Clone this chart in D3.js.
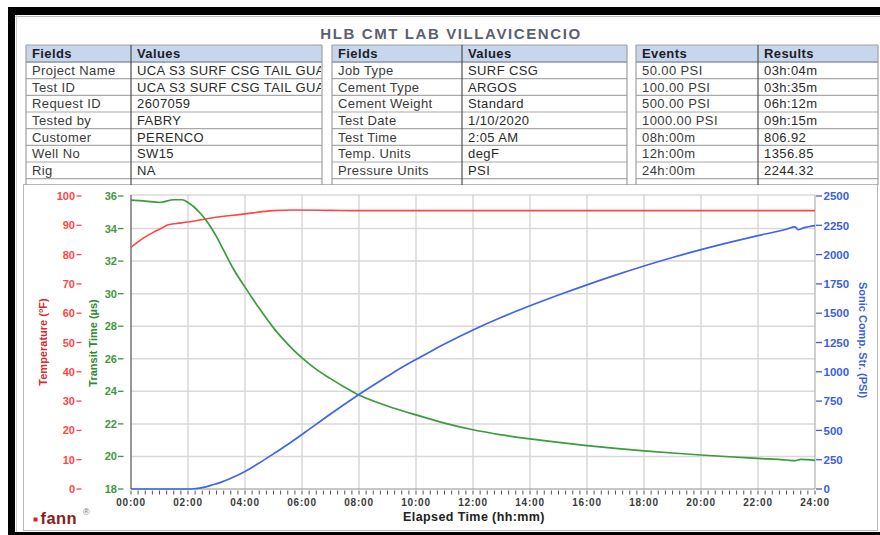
<!DOCTYPE html>
<html><head><meta charset="utf-8">
<script src="https://cdn.jsdelivr.net/npm/d3@7"></script>
<style>body{margin:0;background:#fff;} svg{display:block;font-family:"Liberation Sans",Arial,sans-serif;}</style>
</head><body><svg id="c" width="880" height="535"></svg>
<script>
// ---------- DATA ----------
const chartTitle = "HLB CMT LAB VILLAVICENCIO";
const t1Head = ["Fields", "Values"];
const t1Fields = ["Project Name","Test ID","Request ID","Tested by","Customer","Well No","Rig"];
const t1Values = ["UCA S3 SURF CSG TAIL GUA","UCA S3 SURF CSG TAIL GUA","2607059","FABRY","PERENCO","SW15","NA"];
const t2Head = ["Fields", "Values"];
const t2Fields = ["Job Type","Cement Type","Cement Weight","Test Date","Test Time","Temp. Units","Pressure Units"];
const t2Values = ["SURF CSG","ARGOS","Standard","1/10/2020","2:05 AM","degF","PSI"];
const t3Head = ["Events", "Results"];
const t3Events = ["50.00 PSI","100.00 PSI","500.00 PSI","1000.00 PSI","08h:00m","12h:00m","24h:00m"];
const t3Results = ["03h:04m","03h:35m","06h:12m","09h:15m","806.92","1356.85","2244.32"];

const xTickHours = [0,2,4,6,8,10,12,14,16,18,20,22,24];
const xTickLabels = ["00:00","02:00","04:00","06:00","08:00","10:00","12:00","14:00","16:00","18:00","20:00","22:00","24:00"];
const tempTicks = [0,10,20,30,40,50,60,70,80,90,100];
const transitTicks = [18,20,22,24,26,28,30,32,34,36];
const strengthTicks = [0,250,500,750,1000,1250,1500,1750,2000,2250,2500];

// Temperature (degF)
const tempHours = [0,0.2,0.43,0.78,1.05,1.31,1.6,2,2.77,3.94,4.99,5.7,7,8,10,12,14,16,18,20,22,24];
const tempValues = [82.5,84.0,85.6,87.6,88.9,90.2,90.6,91.1,92.4,93.8,95.0,95.2,95.1,95.0,95.0,95.0,95.0,95.0,95.0,95.0,95.0,95.0];
// Transit time (us)
const transitHours = [0,0.5,1,1.5,1.8,2,2.2,2.4,2.66,3,3.24,3.6,4,4.5,5,5.5,6,6.5,7,7.5,8,9,10,11,12,13,14,15,16,17,18,19,20,21,22,23,23.3,23.5,24];
const transitValues = [35.75,35.69,35.6,35.77,35.77,35.6,35.34,35.0,34.45,33.5,32.7,31.5,30.4,29.1,27.9,26.9,26.05,25.35,24.78,24.25,23.77,23.1,22.55,22.05,21.64,21.33,21.08,20.86,20.66,20.49,20.34,20.21,20.09,19.98,19.88,19.78,19.74,19.82,19.76];
// Sonic compressive strength (PSI)
const strengthHours = [0,1,2,2.2,2.5,2.9,3.07,3.58,4,4.5,5,5.5,6,6.2,7,8,9,9.25,10,10.5,11,12,13,14,15,16,17,18,19,20,21,22,23,23.3,23.4,23.6,24];
const strengthValues = [0,0,0,2,12,38,50,100,150,222,300,380,465,500,640,807,962,1000,1105,1172,1237,1357,1465,1563,1655,1742,1825,1903,1975,2042,2104,2162,2216,2236,2212,2228,2247];

// ---------- DRAW ----------
const svg = d3.select("#c");

// outer frame
svg.append("rect").attr("x",8).attr("y",7).attr("width",872).attr("height",8).attr("fill","#000");
svg.append("rect").attr("x",8).attr("y",7).attr("width",7).attr("height",528).attr("fill","#000");
svg.append("rect").attr("x",8).attr("y",532).attr("width",872).attr("height",3).attr("fill","#000");
svg.append("line").attr("x1",15).attr("x2",880).attr("y1",16.5).attr("y2",16.5).attr("stroke","#bbb");
svg.append("line").attr("x1",16.5).attr("x2",16.5).attr("y1",15).attr("y2",532).attr("stroke","#ccc");

// title
svg.append("text").attr("x",451).attr("y",38.5).attr("text-anchor","middle")
  .attr("font-size",15).attr("font-weight","bold").attr("letter-spacing",1.6)
  .attr("fill","#5b5f70").text(chartTitle);

// chart area frame
svg.append("rect").attr("x",23.5).attr("y",184.5).attr("width",854).attr("height",346)
  .attr("fill","none").attr("stroke","#b8b8b8");

// tables
const rowH = 16.67, headY = 45, headH = 17;
function drawTable(x0, xs, x1, head, c1, c2, id){
  const g = svg.append("g");
  const bodyTop = headY + headH;
  const nRows = c1.length;
  g.append("rect").attr("x",x0).attr("y",headY).attr("width",x1-x0).attr("height",headH).attr("fill","#c8d6eb");
  g.append("rect").attr("x",x0).attr("y",bodyTop).attr("width",x1-x0).attr("height",184-bodyTop).attr("fill","#fff");
  for(let i=0;i<=nRows;i++){
    const y = bodyTop + i*rowH;
    g.append("line").attr("x1",x0).attr("x2",x1).attr("y1",y).attr("y2",y)
      .attr("stroke", i===0 ? "#8a96a8" : "#a9a9a9").attr("stroke-width", i===0?1.5:1.2);
  }
  g.append("line").attr("x1",x0).attr("x2",x1).attr("y1",headY).attr("y2",headY).attr("stroke","#a0a0a0");
  [[x0,"#a0a0a0"],[xs,"#505050"],[x1,"#a0a0a0"]].forEach(([x,c])=>{
    g.append("line").attr("x1",x).attr("x2",x).attr("y1",headY).attr("y2",185).attr("stroke",c).attr("stroke-width",1.2);
  });
  svg.append("clipPath").attr("id",id).append("rect").attr("x",xs+1).attr("y",headY).attr("width",x1-xs-2).attr("height",140);
  g.append("text").attr("x",x0+6).attr("y",headY+13).attr("font-size",13).attr("font-weight","bold")
    .attr("letter-spacing",0.4).attr("fill","#1c1c28").text(head[0]);
  g.append("text").attr("x",xs+6).attr("y",headY+13).attr("font-size",13).attr("font-weight","bold")
    .attr("letter-spacing",0.4).attr("fill","#1c1c28").text(head[1]);
  c1.forEach((t,i)=>{
    const y = bodyTop + i*rowH + 13;
    g.append("text").attr("x",x0+6).attr("y",y).attr("font-size",13).attr("letter-spacing",0.4)
      .attr("fill","#3a3a3a").text(t);
    g.append("text").attr("x",xs+6).attr("y",y).attr("font-size",13).attr("letter-spacing",0.4)
      .attr("fill","#2a2a2a").attr("clip-path",`url(#${id})`).text(c2[i]);
  });
}
drawTable(26, 131, 322, t1Head, t1Fields, t1Values, "clip1");
drawTable(332, 462, 627, t2Head, t2Fields, t2Values, "clip2");
drawTable(636, 758, 878, t3Head, t3Events, t3Results, "clip3");

// scales
const L = 131, R = 815, T = 196, B = 489;
const x = d3.scaleLinear().domain([0,24]).range([L,R]);
const yTemp = d3.scaleLinear().domain([0,100]).range([B,T]);
const yTransit = d3.scaleLinear().domain([18,36]).range([B,T]);
const yStr = d3.scaleLinear().domain([0,2500]).range([B,T]);

// plot background + grid
svg.append("rect").attr("x",L).attr("y",T-1).attr("width",R-L).attr("height",B-T+1).attr("fill","#fff");
const grid = svg.append("g");
xTickHours.slice(1,-1).forEach(h=>{
  grid.append("line").attr("x1",x(h)).attr("x2",x(h)).attr("y1",T-1).attr("y2",B)
    .attr("stroke","#d9d9d9").attr("stroke-width",1.5);
});
transitTicks.slice(1,-1).forEach(v=>{
  grid.append("line").attr("x1",L).attr("x2",R).attr("y1",yTransit(v)).attr("y2",yTransit(v))
    .attr("stroke","#d9d9d9").attr("stroke-width",1.5);
});
svg.append("line").attr("x1",L).attr("x2",R).attr("y1",T-1).attr("y2",T-1).attr("stroke","#c8c8c8").attr("stroke-width",1.2);
svg.append("line").attr("x1",R).attr("x2",R).attr("y1",T-1).attr("y2",B).attr("stroke","#b0b0b0").attr("stroke-width",1.2);
svg.append("line").attr("x1",L).attr("x2",L).attr("y1",T-1).attr("y2",B).attr("stroke","#606060").attr("stroke-width",1.3);
svg.append("line").attr("x1",L).attr("x2",R).attr("y1",B).attr("y2",B).attr("stroke","#909090").attr("stroke-width",1.2);

// x axis minor ticks every 15 min
const minorHours = d3.range(0, 24.001, 0.25);
svg.append("g").selectAll("line").data(minorHours).join("line")
  .attr("x1",d=>x(d)).attr("x2",d=>x(d)).attr("y1",B+1.5).attr("y2",B+5.5)
  .attr("stroke","#555").attr("stroke-width",1);
svg.append("g").selectAll("text").data(xTickHours).join("text")
  .attr("x",d=>x(d)).attr("y",506).attr("text-anchor","middle")
  .attr("font-size",10).attr("font-weight","bold").attr("letter-spacing",0.8)
  .attr("fill","#3a3a3a").text((d,i)=>xTickLabels[i]);
svg.append("text").attr("x",474).attr("y",521).attr("text-anchor","middle")
  .attr("font-size",12.5).attr("font-weight","bold").attr("letter-spacing",0.4)
  .attr("fill","#222").text("Elapsed Time (hh:mm)");

// left temperature axis
const tAx = svg.append("g");
tempTicks.forEach(v=>{
  tAx.append("text").attr("x",75).attr("y",yTemp(v)+4).attr("text-anchor","end")
    .attr("font-size",11).attr("font-weight","bold").attr("fill","#ff4646").text(v);
  tAx.append("line").attr("x1",76.5).attr("x2",81.5).attr("y1",yTemp(v)).attr("y2",yTemp(v))
    .attr("stroke","#ff4646").attr("stroke-width",1.3);
});
svg.append("text").attr("transform","translate(47,342) rotate(-90)").attr("text-anchor","middle")
  .attr("font-size",11).attr("font-weight","bold").attr("fill","#d42a2a").text("Temperature (°F)");

// left transit axis
const gAx = svg.append("g");
transitTicks.forEach(v=>{
  gAx.append("text").attr("x",117).attr("y",yTransit(v)+4).attr("text-anchor","end")
    .attr("font-size",11).attr("font-weight","bold").attr("fill","#3c9a3c").text(v);
  gAx.append("line").attr("x1",118).attr("x2",123.5).attr("y1",yTransit(v)).attr("y2",yTransit(v))
    .attr("stroke","#3c9a3c").attr("stroke-width",1.3);
});
svg.append("text").attr("transform","translate(96.5,343) rotate(-90)").attr("text-anchor","middle")
  .attr("font-size",11).attr("font-weight","bold").attr("fill","#2e8b2e").text("Transit Time (µs)");

// right strength axis
const bAx = svg.append("g");
strengthTicks.forEach(v=>{
  bAx.append("line").attr("x1",816).attr("x2",822).attr("y1",yStr(v)).attr("y2",yStr(v))
    .attr("stroke","#3a60e0").attr("stroke-width",1.3);
  bAx.append("text").attr("x",823.5).attr("y",yStr(v)+4.2)
    .attr("font-size",11.5).attr("font-weight","bold").attr("fill","#3a60e0").text(v);
});
svg.append("text").attr("transform","translate(858.5,340) rotate(90)").attr("text-anchor","middle")
  .attr("font-size",11).attr("font-weight","bold").attr("fill","#3a5fd8").text("Sonic Comp. Str. (PSI)");

// curves
const mk = (ys) => d3.line().x(d=>x(d[0])).y(d=>ys(d[1])).curve(d3.curveMonotoneX);
svg.append("path").datum(d3.zip(tempHours,tempValues)).attr("d",mk(yTemp))
  .attr("fill","none").attr("stroke","#ff4545").attr("stroke-width",1.6);
svg.append("path").datum(d3.zip(transitHours,transitValues)).attr("d",mk(yTransit))
  .attr("fill","none").attr("stroke","#3d9a3d").attr("stroke-width",1.7);
svg.append("path").datum(d3.zip(strengthHours,strengthValues)).attr("d",mk(yStr))
  .attr("fill","none").attr("stroke","#3f66e6").attr("stroke-width",1.7);

// fann logo
svg.append("rect").attr("x",33.5).attr("y",517.5).attr("width",4).attr("height",4).attr("fill","#e02020");
svg.append("text").attr("x",40.5).attr("y",523.5).attr("font-size",16.5).attr("font-weight","bold")
  .attr("letter-spacing",0.4).attr("fill","#8a1c1c").text("fann");
svg.append("text").attr("x",83).attr("y",515).attr("font-size",9).attr("fill","#777").text("®");
</script></body></html>
